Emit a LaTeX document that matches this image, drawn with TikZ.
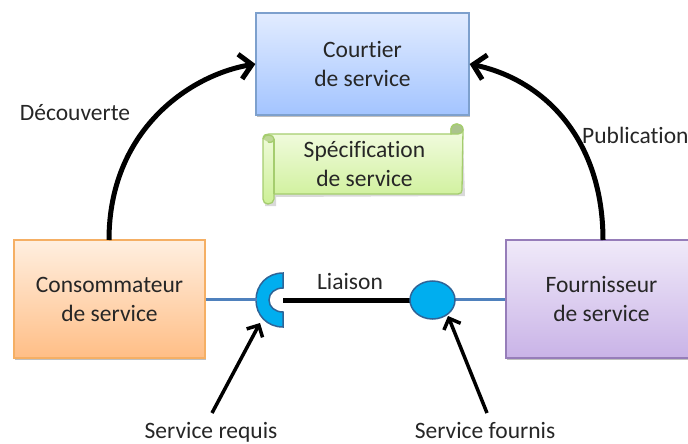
\documentclass[tikz,border=0pt]{standalone}
\usepackage{fontspec}
\setmainfont[Ligatures=CommonOff]{Carlito}
\usetikzlibrary{arrows.meta,shadows,shapes.geometric}
\definecolor{txt}{HTML}{262626}
\definecolor{iface}{HTML}{00AEEF}
\definecolor{ifaceline}{HTML}{2F6497}
\definecolor{wirec}{HTML}{4F81BD}
\definecolor{cbd}{HTML}{7DA0CD}
\definecolor{ctop}{HTML}{E2ECFF}
\definecolor{cbot}{HTML}{A3C4FF}
\definecolor{obd}{HTML}{F5AF64}
\definecolor{otop}{HTML}{FFEFE0}
\definecolor{obot}{HTML}{FFBE86}
\definecolor{pbd}{HTML}{967DB9}
\definecolor{ptop}{HTML}{F0EAF9}
\definecolor{pbot}{HTML}{C9B3E7}
\definecolor{gbd}{HTML}{A5CD6E}
\definecolor{gtop}{HTML}{F5FCE6}
\definecolor{gbot}{HTML}{CDF096}
\definecolor{gcurlA}{HTML}{BED796}
\definecolor{gcurlB}{HTML}{AAC38C}
\tikzset{
  x=1pt,y=-1pt,
  lbl/.style={font=\fontsize{23.5}{29}\selectfont,text=txt,align=center,inner sep=0pt},
  boxs/.style={lbl,rectangle,draw=#1,line width=1.3pt,drop shadow={shadow xshift=1pt,shadow yshift=-2pt,opacity=.25,fill=black}},
  heavy/.style={black,line width=5pt,-{Straight Barb[length=12pt,width=25pt,line width=5pt]}},
  slim/.style={black,line width=3.5pt,-{Straight Barb[length=9pt,width=18pt,line width=3.5pt]}},
  wire/.style={draw=wirec,line width=3pt},
  ifc/.style={fill=iface,draw=ifaceline,line width=1.5pt},
  scrollline/.style={draw=gbd,line width=1.3pt},
}
\begin{document}
\begin{tikzpicture}
\useasboundingbox (0,0) rectangle (688,444);
\begin{scope}
\clip (0,0) rectangle (688,444);
% boxes
\node[boxs=cbd,minimum width=213pt,minimum height=102pt,top color=ctop,bottom color=cbot] (courtier) at (362.5,64) {Courtier\\de service};
\node[boxs=obd,minimum width=191pt,minimum height=118pt,top color=otop,bottom color=obot] (conso) at (109.5,299) {Consommateur\\de service};
\node[boxs=pbd,minimum width=191pt,minimum height=118pt,top color=ptop,bottom color=pbot] (fourn) at (601.5,299) {Fournisseur\\de service};
\end{scope}
% scroll
\path[fill=black,opacity=.15] (274,136) -- (463,136) -- (465,196) -- (276,197) -- (276,206) -- (265,206) -- (265,136) -- cycle;
\path[scrollline,top color=gtop,bottom color=gbot]
  (263,139) .. controls (263,135) and (266,134) .. (269,134)
  -- (451,134) -- (451,129) .. controls (451,125) and (455,124) .. (457,124)
  .. controls (460,124) and (463,126) .. (463,130)
  -- (462,190) .. controls (462,192) and (461,194) .. (458,194)
  -- (274,194) -- (274,199) .. controls (274,202) and (271,204) .. (268,204)
  .. controls (265,204) and (263,202) .. (263,199) -- cycle;
\path[scrollline,fill=gcurlA] (263,139) .. controls (263,136) and (266,135) .. (269,135) .. controls (272,135) and (274,137) .. (274,139) .. controls (274,142) and (270,143) .. (268,142);
\path[scrollline,fill=gcurlB] (451,134) -- (458,134) .. controls (461,134) and (463,132) .. (463,130) .. controls (463,126) and (460,124) .. (457,124) .. controls (454,124) and (451,126) .. (451,129) -- cycle;
\draw[scrollline] (274,139) -- (274,194);
\node[lbl] (spec) at (364.5,164) {Spécification\\de service};
% interface shapes
\coordinate (cupmouth) at (283,300.5);
\coordinate (cupback) at (257,299);
\path[ifc] (283,273) .. controls (267,273) and (256,285) .. (256,300) .. controls (256,315) and (267,327) .. (283,327) -- (283,312) .. controls (275,312) and (269,307) .. (269,300) .. controls (269,293) and (275,288) .. (283,288) -- cycle;
\draw[wire] (conso.east |- cupback) -- (cupback);
\draw[black,line width=5.5pt] (cupmouth) -- (432,300.5);
\draw[wire] (440,299) -- (fourn.west |- 0,299);
\node[ellipse,minimum width=45pt,minimum height=38pt,inner sep=0pt,ifc] (ball) at (432.5,300) {};
% big arcs
\coordinate (a) at (109,240);
\coordinate (b) at (603,240);
\draw[heavy] (a) .. controls (109,130) and (190,75) .. (courtier.west);
\draw[heavy] (b) .. controls (603,140) and (545,80) .. (courtier.east);
% small arrows
\node[lbl,anchor=base] (requis) at (211,438) {Service requis};
\node[lbl,anchor=base] (fournis) at (485,438) {Service fournis};
\coordinate (r1) at (212,413);
\coordinate (r2) at (260,323);
\coordinate (f1) at (487,413);
\coordinate (f2) at (448,316);
\draw[slim] (r1) -- (r2);
\draw[slim] (f1) -- (f2);
% labels
\node[lbl] (dec) at (75,113) {Découverte};
\node[lbl,anchor=west] (pub) at (582,135) {Publication};
\node[lbl] (lia) at (350,281) {Liaison};
\end{tikzpicture}
\end{document}
